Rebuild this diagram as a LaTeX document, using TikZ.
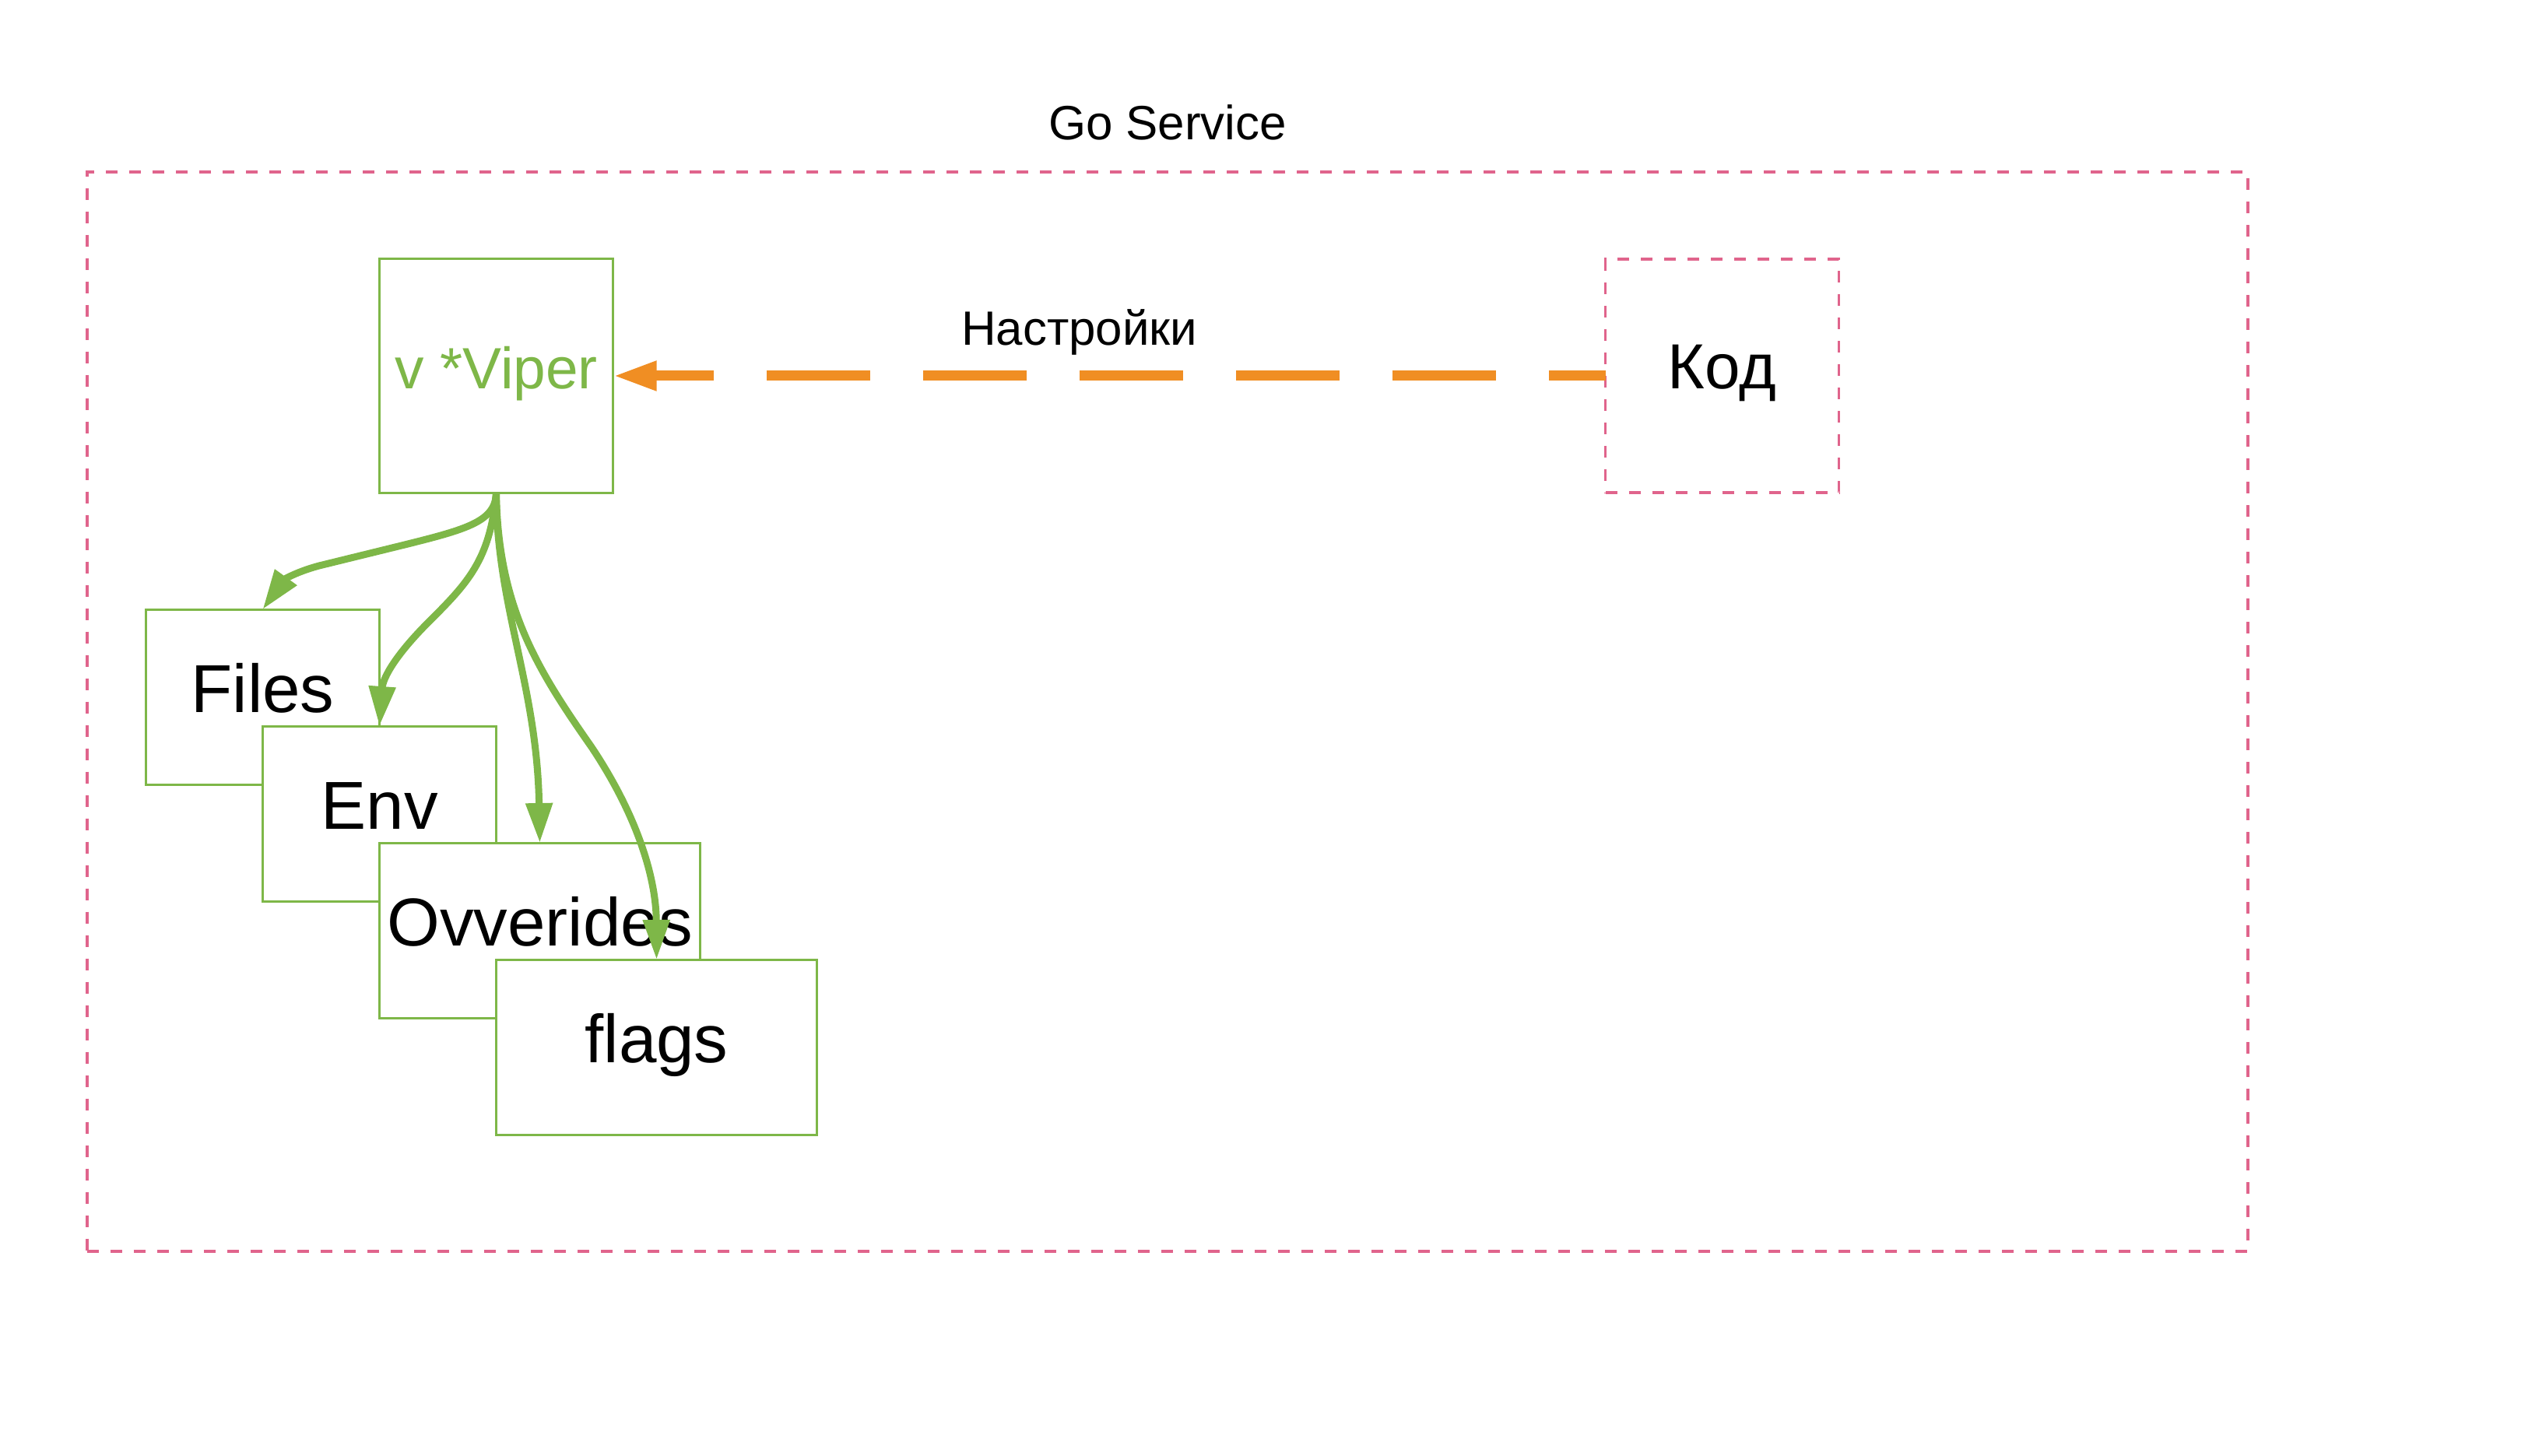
\documentclass[tikz,border=0pt]{standalone}
\usepackage{fontspec}
\setmainfont{Liberation Sans}
\usetikzlibrary{positioning,arrows.meta}
\definecolor{vipergreen}{RGB}{126,183,72}
\definecolor{servicepink}{RGB}{224,100,140}
\definecolor{setorange}{RGB}{240,142,35}

\begin{document}
\begin{tikzpicture}[outer sep=0pt,
    src node/.style={rectangle,draw=vipergreen,fill=white,line width=0.03cm,minimum width=3cm,minimum height=2.25cm,inner sep=0pt,text height=0.5cm,text depth=0.1cm,font=\fontsize{24.8}{28}\selectfont},
    wide node/.style={src node,minimum width=4.12cm},
    viper node/.style={src node,minimum height=3cm,text depth=0.16cm,text=vipergreen,font=\fontsize{21.3}{24}\selectfont},
    svc box/.style={rectangle,draw=servicepink,line width=0.035cm,dash pattern=on 0.15cm off 0.15cm,inner sep=0pt},
    kod node/.style={svc box,minimum width=3cm,minimum height=3cm,text height=0.5cm,text depth=0.16cm,font=\fontsize{23.3}{26}\selectfont},
    title text/.style={font=\fontsize{17.6}{20}\selectfont},
    load arrow/.style={draw=vipergreen,line width=0.09cm,-{Triangle[length=0.51cm,width=0.33cm]}},
    set arrow/.style={draw=setorange,line width=0.13cm,dash pattern=on 1.33cm off 0.68cm,dash phase=0.6cm,-{Triangle[length=0.56cm,width=0.35cm]}}]
    \useasboundingbox (0,0) rectangle (32.44,-18.71);

    \node[svc box,minimum width=27.76cm,minimum height=13.87cm] (service) at (15,-9.145) {};
    \node[title text,anchor=base] (title) at ([yshift=0.41cm]service.north) {Go Service};

    \node[viper node] (viper) at (6.375,-4.83) {v *Viper};
    \node[kod node] (kod) [right=12.75cm of viper] {Код};

    \node[src node] (files) [below left=1.5cm and 0cm of viper.south west] {Files};
    \node[src node] (env) [below right=1.5cm and 1.5cm of files.north west] {Env};
    \node[wide node] (ovv) [below right=1.5cm and 1.5cm of env.north west] {Ovverides};
    \node[wide node] (flags) [below right=1.5cm and 1.5cm of ovv.north west] {flags};

    \draw[set arrow] (kod.west) -- node[title text,pos=0.53,anchor=base,yshift=0.4cm] (setlabel) {Настройки} (viper.east);

    \draw[load arrow] (viper.south) .. controls (6.37,-6.70) and (6.00,-6.80) .. (5.20,-7.00)
        -- (4.10,-7.27) .. controls (3.80,-7.35) and (3.65,-7.45) .. (files.north);
    \draw[load arrow] (viper.south) .. controls (6.30,-7.20) and (6.00,-7.50) .. (5.50,-8.00)
        .. controls (5.10,-8.40) and (4.92,-8.70) .. (env.north);
    \draw[load arrow] (viper.south) .. controls (6.38,-7.80) and (6.90,-8.80) .. (ovv.north);
    \draw[load arrow] (viper.south) .. controls (6.40,-7.80) and (6.90,-8.60) .. (7.60,-9.60)
        .. controls (8.20,-10.50) and (8.43,-11.30) .. (flags.north);
\end{tikzpicture}
\end{document}
